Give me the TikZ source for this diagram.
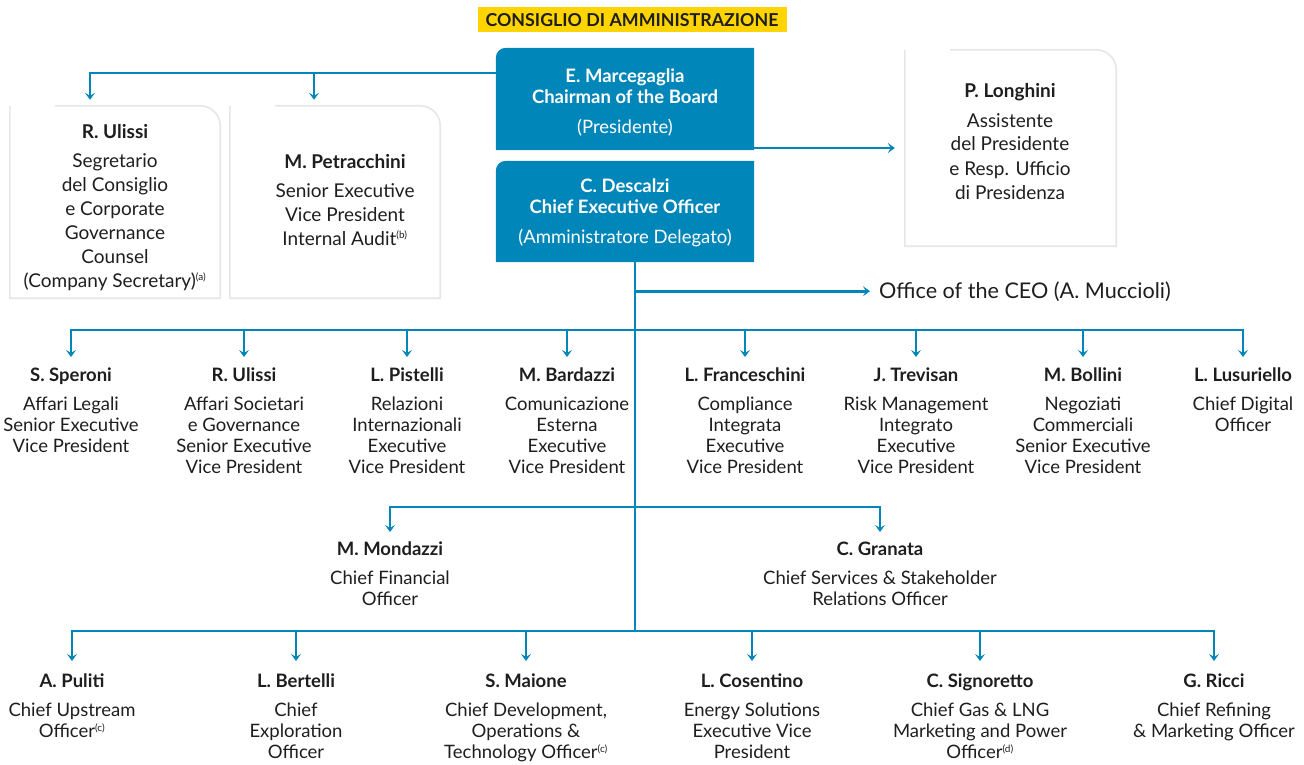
\documentclass[tikz,border=0pt]{standalone}
\usepackage{fontspec}
\setmainfont{Lato}
\usetikzlibrary{arrows.meta}
\definecolor{eniblue}{RGB}{0,134,184}
\definecolor{boxgray}{RGB}{230,230,230}
\definecolor{titleyellow}{RGB}{255,212,0}
\definecolor{txt}{RGB}{30,30,30}
\newcommand\pname[1]{\strut\textbf{#1}}
\newcommand\supnote[1]{\textsuperscript{\fontsize{10}{10}\selectfont(#1)}}
\begin{document}
\begin{tikzpicture}[x=1pt,y=-1pt,
  line/.style={draw=eniblue, line width=2.6pt},
  arr/.style={line, -{Stealth[length=7pt,width=10pt,inset=3pt]}, shorten >=10pt},
  bluebox/.style={inner sep=0pt, minimum width=258pt, minimum height=102pt},
  graybox/.style={inner sep=0pt, minimum width=210pt, minimum height=192pt},
  lboxline/.style={draw=boxgray, line width=1.6pt},
  person/.style={align=center, anchor=north, inner sep=0pt, text=txt, font=\fontsize{18.5}{21}\selectfont},
  topperson/.style={person, font=\fontsize{19}{24}\selectfont},
  bluetext/.style={person, text=white}
]
\useasboundingbox (0,0) rectangle (1304,765);

% title
\node[fill=titleyellow, inner sep=0pt, minimum width=309pt, minimum height=25pt, text=txt,
      font=\fontsize{17.8}{18}\selectfont\bfseries] (title) at (632,20) {CONSIGLIO DI AMMINISTRAZIONE};

% blue boxes
\node[bluebox] (chair) at (625,99) {};
\node[bluebox, minimum height=101pt] (ceo) at (625,211.5) {};
\fill[eniblue] ([yshift=-10pt]chair.north west) to[out=90,in=180] ([xshift=10pt]chair.north west)
  -- (chair.north east) -- (chair.south east) -- (chair.south west) -- cycle;
\fill[eniblue] ([yshift=-10pt]ceo.north west) to[out=90,in=180] ([xshift=10pt]ceo.north west)
  -- (ceo.north east) -- (ceo.south east) -- (ceo.south west) -- cycle;
\node[bluetext] (chairTxt) at (625,68) {\pname{E. Marcegaglia}\\\textbf{Chairman of the Board}\\[9pt](Presidente)};
\node[bluetext] (ceoTxt) at (625,178) {\pname{C. Descalzi}\\\textbf{Chief Executive Officer}\\[9pt](Amministratore Delegato)};

% gray boxes
\node[graybox] (ulBox) at (115,202) {};
\node[graybox] (petBox) at (335,202) {};
\node[graybox, minimum width=211pt, minimum height=196pt] (lonBox) at (1010.5,148) {};
\foreach \b in {ulBox,petBox,lonBox}{
  \draw[lboxline] ([xshift=45pt]\b.north west) -- ([xshift=-20pt]\b.north east)
    to[out=0,in=90] ([yshift=-20pt]\b.north east) -- (\b.south east) -- (\b.south west) -- (\b.north west);
}
\node[topperson] (ulTxt) at (115,121) {\pname{R. Ulissi}\\[5pt]Segretario\\del Consiglio\\e Corporate\\Governance\\Counsel\\(Company Secretary)\supnote{a}};
\node[topperson] (petTxt) at (345,151) {\pname{M. Petracchini}\\[5pt]Senior Executive\\Vice President\\Internal Audit\supnote{b}};
\node[topperson] (lonTxt) at (1010,81) {\pname{P. Longhini}\\[5pt]Assistente\\del Presidente\\e Resp. Ufficio\\di Presidenza};

% helper coordinates
\coordinate (b0) at (0,73);
\coordinate (b1) at (0,330);
\coordinate (b2) at (0,507);
\coordinate (b3) at (0,631);
\coordinate (t0) at (635,0);

% top connectors
\draw[arr, shorten >=6pt] (chair.west |- b0) -| ([xshift=-25pt]ulBox.north);
\draw[arr, shorten >=6pt] ([xshift=-21pt]petBox.north |- b0) -- ([xshift=-21pt]petBox.north);
\draw[arr] (chair.east |- 0,148) -- (lonBox.west |- 0,148);

% Office of the CEO
\node[anchor=base west, inner sep=0pt, text=txt, font=\fontsize{21.6}{24}\selectfont] (office) at (879,298) {Office of the CEO (A. Muccioli)};
\draw[arr, shorten >=9pt] (t0 |- office.west) -- (office.west);

% row 1
\node[person] (speroni) at (71,367) {\pname{S. Speroni}\\[8pt]Affari Legali\\Senior Executive\\Vice President};
\node[person] (ulissi) at (244,367) {\pname{R. Ulissi}\\[8pt]Affari Societari\\e Governance\\Senior Executive\\Vice President};
\node[person] (pistelli) at (407,367) {\pname{L. Pistelli}\\[8pt]Relazioni\\Internazionali\\Executive\\Vice President};
\node[person] (bardazzi) at (567,367) {\pname{M. Bardazzi}\\[8pt]Comunicazione\\Esterna\\Executive\\Vice President};
\node[person] (frances) at (745,367) {\pname{L. Franceschini}\\[8pt]Compliance\\Integrata\\Executive\\Vice President};
\node[person] (trevisan) at (916,367) {\pname{J. Trevisan}\\[8pt]Risk Management\\Integrato\\Executive\\Vice President};
\node[person] (bollini) at (1083,367) {\pname{M. Bollini}\\[8pt]Negoziati\\Commerciali\\Senior Executive\\Vice President};
\node[person] (lusu) at (1243,367) {\pname{L. Lusuriello}\\[8pt]Chief Digital\\Officer};

% row 2
\node[person] (mond) at (390,541) {\pname{M. Mondazzi}\\[8pt]Chief Financial\\Officer};
\node[person] (gran) at (880,541) {\pname{C. Granata}\\[8pt]Chief Services \& Stakeholder\\Relations Officer};

% row 3
\node[person] (puliti) at (72,673) {\pname{A. Puliti}\\[8pt]Chief Upstream\\Officer\supnote{c}};
\node[person] (bertelli) at (296,673) {\pname{L. Bertelli}\\[8pt]Chief\\Exploration\\Officer};
\node[person] (maione) at (526,673) {\pname{S. Maione}\\[8pt]Chief Development,\\Operations \&\\Technology Officer\supnote{c}};
\node[person] (cosentino) at (752,673) {\pname{L. Cosentino}\\[8pt]Energy Solutions\\Executive Vice\\President};
\node[person] (signoretto) at (980,673) {\pname{C. Signoretto}\\[8pt]Chief Gas \& LNG\\Marketing and Power\\Officer\supnote{d}};
\node[person] (ricci) at (1214,673) {\pname{G. Ricci}\\[8pt]Chief Refining\\\& Marketing Officer};

% trunk
\draw[line] (ceo.south -| t0) -- (t0 |- b3);

% row 1 connectors
\draw[arr] (t0 |- b1) -| (speroni.north);
\draw[arr] (t0 |- b1) -| (lusu.north);
\foreach \n in {ulissi,pistelli,bardazzi,frances,trevisan,bollini}
  \draw[arr] (\n.north |- b1) -- (\n.north);

% row 2 connectors
\draw[arr, shorten >=9pt] (t0 |- b2) -| (mond.north);
\draw[arr, shorten >=9pt] (t0 |- b2) -| (gran.north);

% row 3 connectors
\draw[arr, shorten >=12pt] (t0 |- b3) -| (puliti.north);
\draw[arr, shorten >=12pt] (t0 |- b3) -| (ricci.north);
\foreach \n in {bertelli,maione,cosentino,signoretto}
  \draw[arr, shorten >=12pt] (\n.north |- b3) -- (\n.north);
\end{tikzpicture}
\end{document}
